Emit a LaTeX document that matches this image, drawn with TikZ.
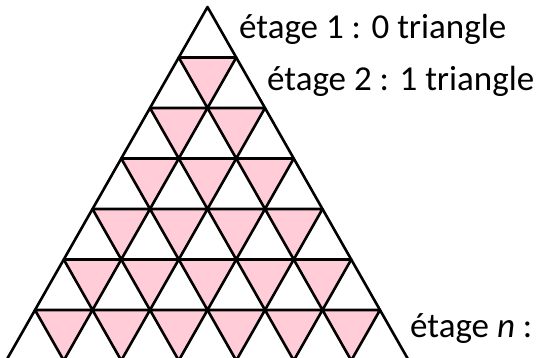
\documentclass[tikz,border=0pt]{standalone}
\usepackage{fontspec}
\setmainfont{Carlito}
\definecolor{tripink}{RGB}{255,204,215}
\begin{document}
\begin{tikzpicture}[x=1pt,y=-1pt,
  grid/.style={line width=2.6pt,line join=round},
  inv/.style={grid,fill=tripink},
  lbl/.style={anchor=base west,inner sep=0pt,font=\fontsize{35}{38}\selectfont}]
\useasboundingbox (0,0) rectangle (536,357);
\clip (0,0) rectangle (536,357);
% side of a small triangle and height of a row
\def\s{57.5}
\def\h{50.5}
\def\ax{207.5}
\def\ay{7}
% inverted (pink) triangles of rows 2..7
\foreach \k in {2,...,7}{
  \pgfmathtruncatemacro{\km}{\k-1}
  \foreach \i in {1,...,\km}{
    \draw[inv]
      ({\ax-(\k-1)*\s/2+(\i-1)*\s},{\ay+(\k-1)*\h}) --
      ({\ax-(\k-1)*\s/2+\i*\s},{\ay+(\k-1)*\h}) --
      ({\ax-\k*\s/2+\i*\s},{\ay+\k*\h}) -- cycle;
  }
}
% outer triangle
\coordinate (apex) at (\ax,\ay);
\coordinate (bl) at ({\ax-7*\s/2},{\ay+7*\h});
\coordinate (br) at ({\ax+7*\s/2},{\ay+7*\h});
\draw[grid] (bl) -- (apex) -- (br) -- cycle;
% row labels
\node[lbl] (l1) at (239,38) {étage 1 : 0 triangle};
\node[lbl] (l2) at (267,90) {étage 2 : 1 triangle};
\node[lbl] (ln) at (410,337) {étage \textit{n} :};
\end{tikzpicture}
\end{document}
